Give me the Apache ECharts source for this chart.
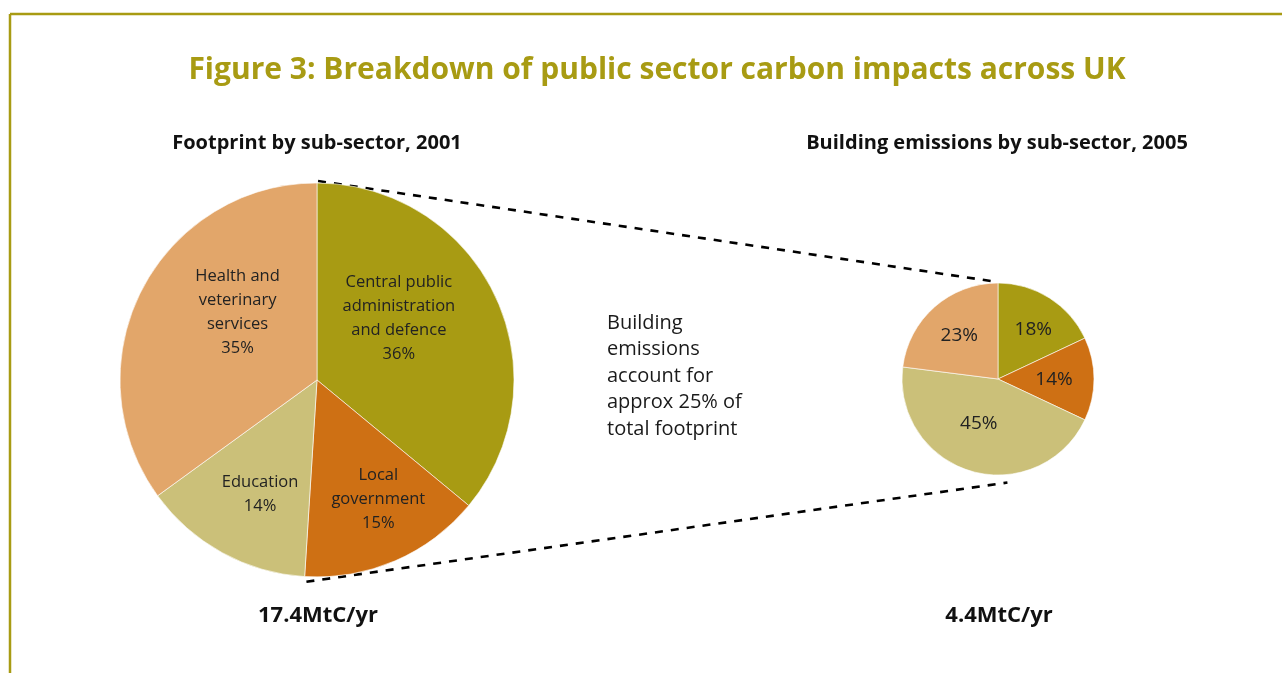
<!DOCTYPE html>
<html>
<head>
<meta charset="utf-8">
<script src="https://cdn.jsdelivr.net/npm/echarts@6/dist/echarts.min.js"></script>
<style>
  html, body { margin: 0; padding: 0; background: #fff; }
  #chart { width: 1282px; height: 673px; }
</style>
</head>
<body>
<div id="chart"></div>
<script>
// Footprint by sub-sector, 2001 (share of 17.4 MtC/yr)
const footprintCategories = ['Central public\nadministration\nand defence', 'Local\ngovernment', 'Education', 'Health and\nveterinary\nservices'];
const footprintValues = [36, 15, 14, 35];

// Building emissions by sub-sector, 2005 (share of 4.4 MtC/yr)
const buildingCategories = ['Central public administration and defence', 'Local government', 'Education', 'Health and veterinary services'];
const buildingValues = [18, 14, 45, 23];

const sectorColors = ['#A89B13', '#CE7014', '#CBC079', '#E2A66A'];
const olive = '#A89B13';
const FONT = 'Open Sans';

// pie geometry
const bigC = [317, 380], bigR = 197;
const smallC = [998, 379], smallR = 96;

// offsets nudging the in-slice labels
const bigLabelOffsets = [[-10, -18], [21, 26], [-8, 25], [11, -22]];
const smallLabelOffsets = [[8, -6], [5, 1], [-5, -4], [-5, -5]];

function polar(c, r, deg) {
  const a = deg * Math.PI / 180;
  return [c[0] + r * Math.sin(a), c[1] - r * Math.cos(a)];
}

const chart = echarts.init(document.getElementById('chart'), null, { renderer: 'canvas' });

// dashed connectors from the large pie to the small one
const upA = polar(bigC, bigR + 2, 0.3);
const upB = polar(smallC, smallR + 2, -3.5);
const loA = polar(bigC, bigR + 5, 183);
const loB = polar(smallC, smallR + 8, 174.8);

const dash = { stroke: '#000', lineWidth: 2.6, lineDash: [8, 8] };

function label(text, x, y, size, opts) {
  return {
    type: 'text', x: x, y: y, silent: true,
    style: Object.assign({
      text: text, fontFamily: FONT, fontSize: size, fontWeight: 'bold',
      fill: '#111', align: 'center', verticalAlign: 'middle'
    }, opts || {})
  };
}

chart.setOption({
  animation: false,
  graphic: [
    { type: 'line', shape: { x1: 10, y1: 14, x2: 1282, y2: 14 }, style: { stroke: olive, lineWidth: 2.5 } },
    { type: 'line', shape: { x1: 10, y1: 14, x2: 10, y2: 673 }, style: { stroke: olive, lineWidth: 2.5 } },
    { type: 'line', shape: { x1: upA[0], y1: upA[1], x2: upB[0], y2: upB[1] }, style: dash },
    { type: 'line', shape: { x1: loA[0], y1: loA[1], x2: loB[0], y2: loB[1] }, style: dash },
    label('Figure 3: Breakdown of public sector carbon impacts across UK', 657, 70, 30, { fill: olive }),
    label('Footprint by sub-sector, 2001', 317, 143, 20),
    label('Building emissions by sub-sector, 2005', 997, 143, 20),
    label('17.4MtC/yr', 318, 616, 22),
    label('4.4MtC/yr', 999, 616, 22),
    { type: 'text', x: 607, y: 310, silent: true,
      style: { text: 'Building\nemissions\naccount for\napprox 25% of\ntotal footprint',
        fontFamily: FONT, fontSize: 20, lineHeight: 26.5, fill: '#1a1a1a', verticalAlign: 'top' } }
  ],
  series: [
    {
      type: 'pie', center: bigC, radius: bigR, startAngle: 90, clockwise: true,
      silent: true, avoidLabelOverlap: false,
      itemStyle: { borderColor: '#fff', borderWidth: 0.6 },
      label: { position: 'inside', fontFamily: FONT, fontSize: 16.5, lineHeight: 24, color: '#222',
        formatter: p => p.name + '\n' + p.value + '%' },
      labelLine: { show: false },
      data: footprintCategories.map((n, i) => ({
        name: n, value: footprintValues[i],
        itemStyle: { color: sectorColors[i] },
        label: { offset: bigLabelOffsets[i] }
      }))
    },
    {
      type: 'pie', center: smallC, radius: smallR, startAngle: 90, clockwise: true,
      silent: true, avoidLabelOverlap: false,
      itemStyle: { borderColor: '#fff', borderWidth: 0.6 },
      label: { position: 'inside', fontFamily: FONT, fontSize: 19, color: '#222',
        formatter: p => p.value + '%' },
      labelLine: { show: false },
      data: buildingCategories.map((n, i) => ({
        name: n, value: buildingValues[i],
        itemStyle: { color: sectorColors[i] },
        label: { offset: smallLabelOffsets[i] }
      }))
    }
  ]
});
</script>
</body>
</html>
